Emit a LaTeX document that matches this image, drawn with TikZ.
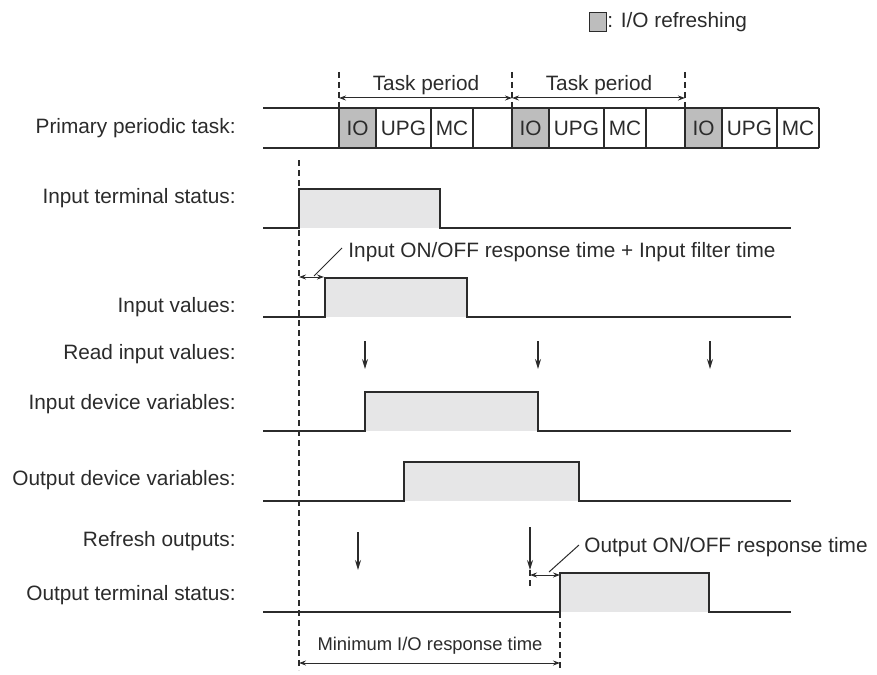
\documentclass[tikz,border=0pt]{standalone}
\usepackage{fontspec}
\setmainfont{Liberation Sans}
\usetikzlibrary{arrows.meta}
\definecolor{iogray}{HTML}{BDBDBD}
\definecolor{pulsegray}{HTML}{E6E6E7}
\definecolor{ink}{HTML}{2B2B2B}
\begin{document}
\begin{tikzpicture}[x=0.5pt,y=-0.5pt,
    font=\fontsize{10.4}{12}\selectfont,
    wave/.style={draw=ink,line width=0.8pt},
    lbl/.style={anchor=east,text=ink,inner sep=0pt},
    note/.style={anchor=west,text=ink,inner sep=0pt},
    guide/.style={draw=ink,line width=0.55pt,dash pattern=on 3pt off 2pt},
    span/.style={draw=ink,line width=0.5pt,{Stealth[length=3.5pt,width=2.5pt]}-{Stealth[length=3.5pt,width=2.5pt]}},
    tick/.style={draw=ink,line width=0.6pt,-{Stealth[length=5pt,width=3pt]}}]
      \useasboundingbox (0,0) rectangle (877,674);
      \def\xs{263};
      \def\xe{791};
      \def\h{39};
      % legend
      \draw[ink,fill=iogray,line width=0.5pt] (589,13) rectangle (606,32);
      \node[note] (legend) at (607,22) {: I/O refreshing};
      % primary periodic task row
      \foreach \s in {339,512,685}
        \fill[iogray] (\s,108) rectangle (\s+37,148);
      \draw[wave] (\xs,108) -- (819,108);
      \draw[wave] (\xs,148) -- (819,148);
      \foreach \x in {339,376,431,473,512,549,604,646,685,722,777,819}
        \draw[wave] (\x,108) -- (\x,148);
      \foreach \s [count=\i] in {339,512,685} {
        \node[text=ink] (io\i) at (\s+18.5,128) {IO};
        \node[text=ink] (upg\i) at (\s+64.5,128) {UPG};
        \node[text=ink] (mc\i) at (\s+113,128) {MC};
      }
      % task periods
      \foreach \s in {339,512,685}
        \draw[guide] (\s,72) -- (\s,108);
      \draw[span] (339,98) -- (512,98);
      \draw[span] (512,98) -- (685,98);
      \node[text=ink,inner sep=0pt] (per1) at (426,85) {Task period};
      \node[text=ink,inner sep=0pt] (per2) at (599,85) {Task period};
      % signals: low level / rise / fall
      \foreach \lo/\ri/\fa in {228/299/440, 317/325/467, 431/365/538, 501/404/579, 612/560/709} {
        \fill[pulsegray] (\ri,\lo-\h) rectangle (\fa,\lo);
        \draw[wave] (\xs,\lo) -- (\ri,\lo) -- (\ri,\lo-\h) -- (\fa,\lo-\h) -- (\fa,\lo) -- (\xe,\lo);
      }
      % row labels
      \node[lbl] (lTask) at (236,128) {Primary periodic task:};
      \node[lbl] (lInTerm) at (236,198) {Input terminal status:};
      \node[lbl] (lInVal) at (236,307) {Input values:};
      \node[lbl] (lRead) at (236,354) {Read input values:};
      \node[lbl] (lInDev) at (236,404) {Input device variables:};
      \node[lbl] (lOutDev) at (236,480) {Output device variables:};
      \node[lbl] (lRefresh) at (236,541) {Refresh outputs:};
      \node[lbl] (lOutTerm) at (236,595) {Output terminal status:};
      % start of the input
      \draw[guide] (299,160) -- (299,670);
      \draw[span] (299,277) -- (324,277);
      \draw[ink,line width=0.5pt] (314,276) -- (342,248);
      \node[note] (inResp) at (348,252) {Input ON/OFF response time + Input filter time};
      % read input values
      \foreach \x in {365,538,710}
        \draw[tick] (\x,341) -- (\x,369);
      % refresh outputs
      \draw[tick] (358,532) -- (358,570);
      \draw[tick] (530,527) -- (530,570);
      \draw[guide] (530,570) -- (530,586);
      \draw[span] (530,575) -- (560,575);
      \draw[ink,line width=0.5pt] (549,572) -- (579,545);
      \node[note] (outResp) at (584,547) {Output ON/OFF response time};
      % minimum response time
      \draw[guide] (560,612) -- (560,670);
      \draw[span] (299,663) -- (560,663);
      \node[text=ink,inner sep=0pt,font=\fontsize{9.2}{11}\selectfont] (minResp) at (430,646) {Minimum I/O response time};
    \end{tikzpicture}
\end{document}
